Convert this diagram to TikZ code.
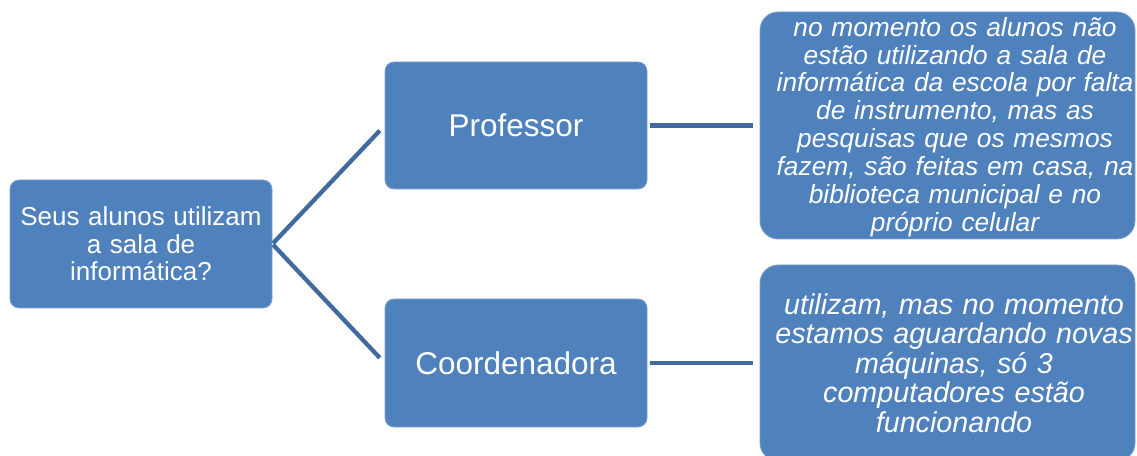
\documentclass[tikz,border=0pt]{standalone}
\usepackage{fontspec}
\setmainfont{Liberation Sans}
\definecolor{boxblue}{HTML}{4F81BD}
\definecolor{edgeblue}{HTML}{7FA2D0}
\definecolor{lineblue}{HTML}{416A9F}
\tikzset{
  box/.style={draw=edgeblue, line width=0.8pt, fill=boxblue, text=white, align=center, inner sep=0pt, anchor=center},
  boxtext/.style={text=white, align=center, inner sep=0pt, anchor=center},
  link/.style={draw=lineblue, line width=4.3pt},
}
\begin{document}
\begin{tikzpicture}[x=1pt,y=1pt]
\useasboundingbox (0,0) rectangle (1137,455);
\node[box, rounded corners=9pt, minimum width=262pt, minimum height=128pt, text width=255pt,
  font=\fontsize{26}{27.5}\selectfont] (root) at (141,211)
  {Seus alunos utilizam\\ a sala de\\ informática?};
\node[box, rounded corners=9pt, minimum width=262pt, minimum height=127pt, text width=255pt,
  font=\fontsize{31.5}{33}\selectfont] (prof) at (516,329.5) {Professor};
\node[box, rounded corners=9pt, minimum width=262pt, minimum height=128pt, text width=255pt,
  font=\fontsize{31.5}{33}\selectfont] (coord) at (516,92) {Coordenadora};
\node[box, rounded corners=18pt, minimum width=375pt, minimum height=227pt] (r1) at (947.5,329.5) {};
\node[boxtext, text width=370pt, font=\fontsize{26.3}{27.9}\selectfont\itshape] (r1t) at (955,328)
  {no momento os alunos não\\ estão utilizando a sala de\\ informática da escola por falta\\ de instrumento, mas as\\ pesquisas que os mesmos\\ fazem, são feitas em casa, na\\ biblioteca municipal e no\\ próprio celular};
\node[box, rounded corners=18pt, minimum width=375pt, minimum height=196pt] (r2) at (947.5,92) {};
\node[boxtext, text width=370pt, font=\fontsize{28.7}{29.5}\selectfont\itshape] (r2t) at (954,92)
  {utilizam, mas no momento\\ estamos aguardando novas\\ máquinas, só 3\\ computadores estão\\ funcionando};
\draw[link, shorten <=1pt, shorten >=7pt] (root.east) -- (prof.west);
\draw[link, shorten <=1pt, shorten >=7pt] (root.east) -- (coord.west);
\draw[link, shorten <=3pt, shorten >=7pt] (prof.east) -- (r1.west);
\draw[link, shorten <=3pt, shorten >=7pt] (coord.east) -- (r2.west);
\end{tikzpicture}
\end{document}
